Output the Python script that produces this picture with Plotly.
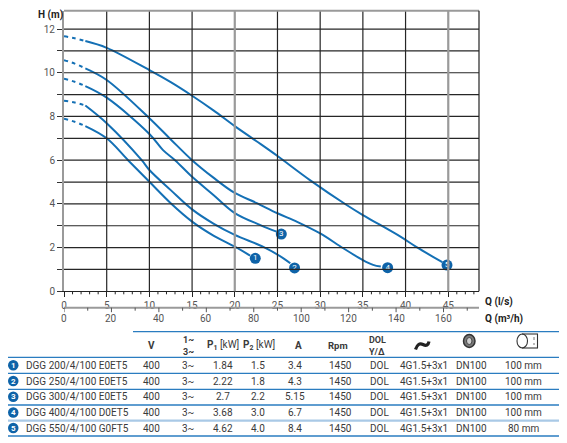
import plotly.graph_objects as go

W, H = 567, 443

# ---------------- data ----------------
# dashed start segment (Q in l/s, H in m)
dash_q = [0, 1.25, 2.5]
c1_dash_h = [7.90, 7.76, 7.56]
c2_dash_h = [8.72, 8.64, 8.50]
c3_dash_h = [9.73, 9.59, 9.39]
c4_dash_h = [10.58, 10.42, 10.20]
c5_dash_h = [11.67, 11.58, 11.45]

c1_q = [2.5, 5, 7.5, 10, 12.5, 15, 17.5, 20, 21.8]
c1_h = [7.56, 7.00, 6.00, 5.01, 4.03, 3.19, 2.55, 2.04, 1.63]
c2_q = [2.5, 5, 9.1, 10, 12.5, 15, 17.5, 20, 23.4, 25.7, 26.5]
c2_h = [8.50, 7.69, 6.00, 5.55, 4.63, 3.75, 3.10, 2.58, 2.02, 1.51, 1.28]
c3_q = [2.5, 5, 10, 11.6, 13, 15, 17.5, 20, 23, 24.9]
c3_h = [9.39, 8.86, 7.20, 6.46, 6.00, 5.24, 4.41, 3.58, 3.03, 2.73]
c4_q = [2.5, 5, 10, 12.5, 15, 17.5, 20, 22.5, 25, 27.3, 30, 32.7, 35, 36.2, 37.1]
c4_h = [10.20, 9.67, 7.92, 6.95, 6.00, 5.20, 4.50, 4.05, 3.57, 3.18, 2.65, 1.97, 1.43, 1.21, 1.13]
c5_q = [2.5, 5, 10, 12.5, 15, 17.5, 20, 22.5, 25, 28.8, 33.1, 35, 39.4, 41.3, 44.3]
c5_h = [11.45, 11.14, 10.12, 9.57, 8.95, 8.28, 7.56, 6.88, 6.19, 5.09, 3.95, 3.49, 2.50, 2.02, 1.33]

label_q = [22.4, 27.0, 25.45, 37.9, 44.85]
label_h = [1.51, 1.07, 2.62, 1.08, 1.20]
label_txt = ["1", "2", "3", "4", "5"]

y_grid = [0, 1, 2, 3, 4, 5, 6, 7, 8, 9, 10, 11, 12]
y_labels = ["0", "", "2", "", "4", "", "6", "", "8", "", "10", "", "12"]
q_ls_ticks = [0, 5, 10, 15, 20, 25, 30, 35, 40, 45]
q_ls_dark_grid = [5, 10, 15, 25, 30, 35, 40]
q_ls_gray_grid = [20, 45]
q_ls_minor = list(range(1, 49))
q_m3h_ticks = [0, 20, 40, 60, 80, 100, 120, 140, 160]
q_m3h_minor = list(range(10, 171, 20))
LS_PER_M3H = 1 / 3.6

# table
models = ["DGG 200/4/100 E0ET5", "DGG 250/4/100 E0ET5", "DGG 300/4/100 E0ET5",
          "DGG 400/4/100 D0ET5", "DGG 550/4/100 G0FT5"]
volts = ["400", "400", "400", "400", "400"]
phase = ["3~", "3~", "3~", "3~", "3~"]
p1 = ["1.84", "2.22", "2.7", "3.68", "4.62"]
p2 = ["1.5", "1.8", "2.2", "3.0", "4.0"]
amps = ["3.4", "4.3", "5.15", "6.7", "8.4"]
rpm = ["1450", "1450", "1450", "1450", "1450"]
start = ["DOL", "DOL", "DOL", "DOL", "DOL"]
cable = ["4G1.5+3x1", "4G1.5+3x1", "4G1.5+3x1", "4G1.5+3x1", "4G1.5+3x1"]
outlet = ["DN100", "DN100", "DN100", "DN100", "DN100"]
passage = ["100 mm", "100 mm", "100 mm", "100 mm", "80 mm"]

BLUE = "#1470b5"
MARK = "#0e63a8"
TXT = "#3a3a3a"
GRID = "#262626"
GRAY = "#9a9a9a"
FONT = "Roboto"

OFF = 8  # page body margin offset

def px(x):
    return (x - OFF) / W

def py(y):
    return 1 - (y - OFF) / H

X_MAX = 48.6
Y_MAX = 12.84

fig = go.Figure()

curves = [(c1_dash_h, c1_q, c1_h), (c2_dash_h, c2_q, c2_h), (c3_dash_h, c3_q, c3_h),
          (c4_dash_h, c4_q, c4_h), (c5_dash_h, c5_q, c5_h)]
for dh, q, h in curves:
    fig.add_trace(go.Scatter(x=dash_q, y=dh, mode="lines", line=dict(color=BLUE, width=2, dash="4px,4px", shape="spline"),
                             hoverinfo="skip", showlegend=False))
    fig.add_trace(go.Scatter(x=q, y=h, mode="lines", line=dict(color=BLUE, width=2, shape="spline", smoothing=1.0),
                             showlegend=False))

fig.add_trace(go.Scatter(x=label_q, y=label_h, mode="markers+text", text=label_txt,
                         textposition="middle center",
                         textfont=dict(color="white", size=8, family="Roboto"),
                         marker=dict(color=MARK, size=11, line=dict(width=0)), showlegend=False))

plot_l, plot_r, plot_t, plot_b = 64, 479, 10.7, 291.3
m3h_axis_y = 307.7

fig.update_layout(
    width=W, height=H, margin=dict(l=0, r=0, t=0, b=0, autoexpand=False),
    plot_bgcolor="white",
    font=dict(family=FONT, size=10, color=TXT),
    xaxis=dict(domain=[px(plot_l), px(plot_r)], range=[0, X_MAX], tickvals=q_ls_ticks,
               showgrid=False, zeroline=False,
               showline=True, linecolor="#222", linewidth=1.2,
               ticks="outside", ticklen=5, tickcolor="#222",
               tickfont=dict(size=10, color="#555"), automargin=False),
    yaxis=dict(domain=[py(plot_b), py(plot_t)], range=[0, Y_MAX], tickvals=y_grid, ticktext=y_labels,
               showgrid=False, zeroline=False,
               showline=True, linecolor=GRAY, linewidth=2,
               ticks="outside", ticklen=5, tickcolor="#333",
               tickfont=dict(size=10, color="#555"), automargin=False),
)

shapes = []
annotations = []

# grid lines from the tick arrays
for yv in y_grid[1:]:
    shapes.append(dict(type="line", xref="paper", yref="y", x0=px(plot_l), x1=px(plot_r), y0=yv, y1=yv,
                       line=dict(color=GRID, width=1.2)))
for xv in q_ls_dark_grid:
    shapes.append(dict(type="line", xref="x", yref="paper", x0=xv, x1=xv, y0=py(plot_b), y1=py(plot_t),
                       line=dict(color=GRID, width=1.2)))
for xv in q_ls_gray_grid:
    shapes.append(dict(type="line", xref="x", yref="paper", x0=xv, x1=xv, y0=py(plot_b), y1=py(plot_t),
                       line=dict(color=GRAY, width=2.2)))
# minor ticks (every 1 l/s)
for xv in q_ls_minor:
    if xv % 5:
        shapes.append(dict(type="line", xref="x", yref="paper", x0=xv, x1=xv, y0=py(plot_b), y1=py(plot_b + 3),
                           line=dict(color="#222", width=1)))
# top border (gray) and right border (dark)
shapes.append(dict(type="line", xref="paper", yref="paper", x0=px(plot_l), x1=px(plot_r), y0=py(plot_t), y1=py(plot_t),
                   line=dict(color=GRAY, width=2)))
shapes.append(dict(type="line", xref="paper", yref="paper", x0=px(plot_r), x1=px(plot_r), y0=py(plot_b), y1=py(plot_t),
                   line=dict(color="#222", width=1.2)))

# second (m3/h) axis drawn on the l/s scale
shapes.append(dict(type="line", xref="x", yref="paper", x0=0, x1=X_MAX, y0=py(m3h_axis_y), y1=py(m3h_axis_y),
                   line=dict(color=GRAY, width=2)))
for v in q_m3h_ticks:
    shapes.append(dict(type="line", xref="x", yref="paper", x0=v * LS_PER_M3H, x1=v * LS_PER_M3H,
                       y0=py(m3h_axis_y), y1=py(m3h_axis_y + 4.5), line=dict(color="#555", width=1)))
    annotations.append(dict(x=v * LS_PER_M3H, y=py(318.5), xref="x", yref="paper", text=str(v), showarrow=False,
                            xanchor="center", yanchor="middle", font=dict(size=10, color="#555")))
for v in q_m3h_minor:
    shapes.append(dict(type="line", xref="x", yref="paper", x0=v * LS_PER_M3H, x1=v * LS_PER_M3H,
                       y0=py(m3h_axis_y), y1=py(m3h_axis_y + 3), line=dict(color="#555", width=1)))

annotations.append(dict(x=px(50.5), y=py(15), xref="paper", yref="paper", text="<b>H (m)</b>",
                        xanchor="center", yanchor="middle", showarrow=False, font=dict(size=10, color="#222")))
annotations.append(dict(x=px(483), y=py(302), xref="paper", yref="paper", text="<b>Q (l/s)</b>",
                        xanchor="left", yanchor="middle", showarrow=False, font=dict(size=10, color="#222")))
annotations.append(dict(x=px(483), y=py(318.5), xref="paper", yref="paper", text="<b>Q (m³/h)</b>",
                        xanchor="left", yanchor="middle", showarrow=False, font=dict(size=10, color="#222")))

# ---------------- table ----------------
LINE_BLUE = "#2a7cc0"
shapes.append(dict(type="line", xref="paper", yref="paper", x0=px(133), x1=px(564), y0=py(331.7), y1=py(331.7),
                   line=dict(color=LINE_BLUE, width=1.3)))
row_lines = [357.3, 373.3, 389.3, 405.0, 420.7, 436.0]
for i, yl in enumerate(row_lines):
    col = "#a9c9e6" if i == 4 else LINE_BLUE
    wdt = 2.2 if i == 4 else 1.3
    shapes.append(dict(type="line", xref="paper", yref="paper", x0=px(8), x1=px(564), y0=py(yl), y1=py(yl),
                       line=dict(color=col, width=wdt)))

def ann(x, y, text, size=10, color=TXT, xanchor="center"):
    annotations.append(dict(x=px(x), y=py(y), xref="paper", yref="paper", text=text, showarrow=False,
                            xanchor=xanchor, yanchor="middle", font=dict(size=size, color=color, family=FONT)))

hy = 345.5
ann(151.7, hy, "<b>V</b>")
ann(188.3, 339.5, "<b>1~</b>", size=9)
ann(188.3, 351.5, "<b>3~</b>", size=9)
ann(223, hy, "<b>P</b><sub><b>1</b></sub> [kW]")
ann(258.5, hy, "<b>P</b><sub><b>2</b></sub> [kW]")
ann(298, hy, "<b>A</b>")
ann(338, hy, "<b>Rpm</b>", size=9.5)
ann(377, 339.5, "<b>DOL</b>", size=9)
ann(377, 351.5, "<b>Y/Δ</b>", size=9)

# header icons: hose, flange, pipe
shapes.append(dict(type="path", xref="paper", yref="paper",
                   path=f"M {px(415.5)},{py(349.5)} Q {px(418)},{py(342)} {px(423)},{py(344.5)} T {px(429)},{py(341.5)}",
                   line=dict(color="#222", width=3.2)))
shapes.append(dict(type="circle", xref="paper", yref="paper", x0=px(463.5), x1=px(475), y0=py(347.5), y1=py(334.5),
                   fillcolor="#7a7a7a", line=dict(color="#333", width=1.5)))
shapes.append(dict(type="circle", xref="paper", yref="paper", x0=px(466.5), x1=px(472), y0=py(344.5), y1=py(337.5),
                   fillcolor="#cfcfcf", line=dict(color="#444", width=1)))
shapes.append(dict(type="circle", xref="paper", yref="paper", x0=px(517), x1=px(527.5), y0=py(348), y1=py(334),
                   fillcolor="white", line=dict(color="#333", width=1.1)))
shapes.append(dict(type="line", xref="paper", yref="paper", x0=px(522), x1=px(538), y0=py(334), y1=py(334),
                   line=dict(color="#333", width=1.1)))
shapes.append(dict(type="line", xref="paper", yref="paper", x0=px(522), x1=px(538), y0=py(348), y1=py(348),
                   line=dict(color="#333", width=1.1)))
shapes.append(dict(type="line", xref="paper", yref="paper", x0=px(537.5), x1=px(537.5), y0=py(334), y1=py(348),
                   line=dict(color="#333", width=1.1)))
shapes.append(dict(type="line", xref="paper", yref="paper", x0=px(534), x1=px(534), y0=py(337), y1=py(345),
                   line=dict(color="#777", width=1, dash="dot")))

row_y = [365.2, 381.0, 396.8, 412.5, 428.0]
for i, yr in enumerate(row_y):
    shapes.append(dict(type="circle", xref="paper", yref="paper", x0=px(8), x1=px(18.5), y0=py(yr + 5.25), y1=py(yr - 5.25),
                       fillcolor=MARK, line=dict(width=0)))
    ann(13.3, yr, f"<b>{label_txt[i]}</b>", size=8, color="white")
    ann(24, yr, models[i], xanchor="left")
    ann(151.7, yr, volts[i])
    ann(188.3, yr, phase[i])
    ann(222.7, yr, p1[i])
    ann(257.7, yr, p2[i])
    ann(295, yr, amps[i])
    ann(340, yr, rpm[i])
    ann(379, yr, start[i])
    ann(424, yr, cable[i])
    ann(471.7, yr, outlet[i])
    ann(523.3, yr, passage[i])

fig.update_layout(shapes=shapes, annotations=annotations)

fig.write_html("out.html")
